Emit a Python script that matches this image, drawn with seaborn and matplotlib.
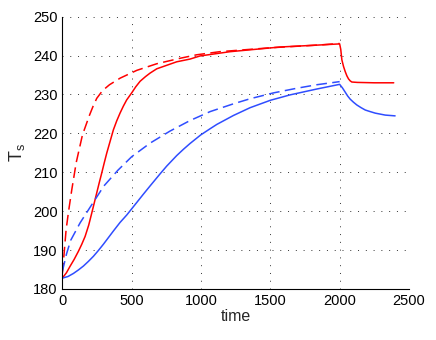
import pandas as pd
import matplotlib
matplotlib.use("Agg")
import matplotlib.pyplot as plt
import seaborn as sns

# values
t_red = [0, 30, 55, 85, 116, 140, 164, 190, 212, 230, 248, 266, 284, 302, 320, 344, 368,
         392, 416, 440, 464, 500, 530, 561, 600, 633, 681, 729, 825, 921, 993, 1210,
         1571, 1845, 2000, 2008, 2016, 2028, 2040, 2052, 2064, 2076, 2088, 2128, 2250, 2390]
ts_red = [182.8, 184.2, 185.8, 187.6, 189.7, 191.5, 193.5, 196.4, 199.5, 202.1, 204.7, 207.3,
          209.8, 212.4, 214.9, 217.9, 220.9, 223.2, 225.2, 227.0, 228.6, 230.4, 232.0, 233.4,
          234.6, 235.5, 236.6, 237.2, 238.4, 239.1, 239.9, 241.0, 242.2, 242.7, 243.0,
          241.6, 238.9, 237.2, 235.9, 234.8, 234.0, 233.5, 233.2, 233.1, 233.0, 233.0]

t_red_dash = [0, 10, 27, 45, 68, 100, 145, 195, 222, 248, 290, 340, 417, 537, 681, 849, 969,
              1136, 1500, 1845, 2000]
ts_red_dash = [184.0, 188.0, 195.2, 200.0, 205.5, 212.5, 219.6, 224.6, 227.0, 229.0, 231.0,
               232.5, 234.2, 236.2, 237.9, 239.3, 240.2, 241.0, 242.0, 242.7, 243.1]

t_blue = [0, 40, 80, 116, 152, 188, 224, 260, 296, 332, 368, 416, 464, 500, 585, 633,
          705, 753, 825, 873, 921, 998, 1066, 1114, 1234, 1354, 1500, 1643, 1835, 2000,
          2020, 2040, 2058, 2076, 2100, 2124, 2155, 2185, 2220, 2257, 2329, 2400]
ts_blue = [182.8, 183.2, 184.0, 184.9, 185.9, 187.1, 188.4, 189.9, 191.5, 193.2, 194.9, 197.1,
           199.0, 200.6, 204.4, 206.5, 209.6, 211.6, 214.3, 215.9, 217.4, 219.6, 221.2, 222.3,
           224.6, 226.6, 228.5, 229.9, 231.4, 232.6, 231.7, 230.6, 229.6, 228.8, 228.0,
           227.3, 226.6, 226.0, 225.6, 225.2, 224.7, 224.5]

t_blue_dash = [0, 30, 60, 128, 200, 300, 400, 500, 633, 777, 921, 1066, 1234, 1354, 1522,
               1691, 1835, 2000]
ts_blue_dash = [184.5, 189.0, 192.5, 197.0, 201.0, 206.5, 210.5, 214.0, 217.5, 220.6, 223.3,
                225.6, 227.6, 228.9, 230.4, 231.6, 232.5, 233.3]

sns.set_style("white")
plt.rcParams['font.family'] = ['Liberation Sans', 'DejaVu Sans']
plt.rcParams['mathtext.fontset'] = 'custom'
plt.rcParams['mathtext.rm'] = 'Liberation Sans'

red = '#ff0000'
blue = '#2f4dff'

fig = plt.figure(figsize=(4.36, 3.4), dpi=100)
ax = fig.add_axes([0.143, 0.150, 0.795, 0.801])

sns.lineplot(x=t_red, y=ts_red, color=red, lw=1.1, ax=ax)
sns.lineplot(x=t_red_dash, y=ts_red_dash, color=red, lw=1.1, ax=ax)
ax.lines[-1].set_dashes([7, 3.5])
sns.lineplot(x=t_blue, y=ts_blue, color=blue, lw=1.1, ax=ax)
sns.lineplot(x=t_blue_dash, y=ts_blue_dash, color=blue, lw=1.1, ax=ax)
ax.lines[-1].set_dashes([7, 3.5])

ax.set_xlim(0, 2500)
ax.set_ylim(180, 250)
ax.set_xticks([0, 500, 1000, 1500, 2000, 2500])
ax.set_yticks([180, 190, 200, 210, 220, 230, 240, 250])
ax.grid(True, color='#333333', linestyle=(0, (1, 7)), linewidth=0.7)
ax.tick_params(direction='in', length=3, width=0.6, labelsize=10.5, colors='black')
for side in ['top', 'right']:
    ax.spines[side].set_visible(False)
for side in ['left', 'bottom']:
    ax.spines[side].set_color('black')
    ax.spines[side].set_linewidth(0.8)

ax.set_xlabel('time', fontsize=11.5, labelpad=1)
ax.set_ylabel(r'T$_\mathregular{s}$', fontsize=13, labelpad=4)

fig.savefig('out.png', dpi=100)
